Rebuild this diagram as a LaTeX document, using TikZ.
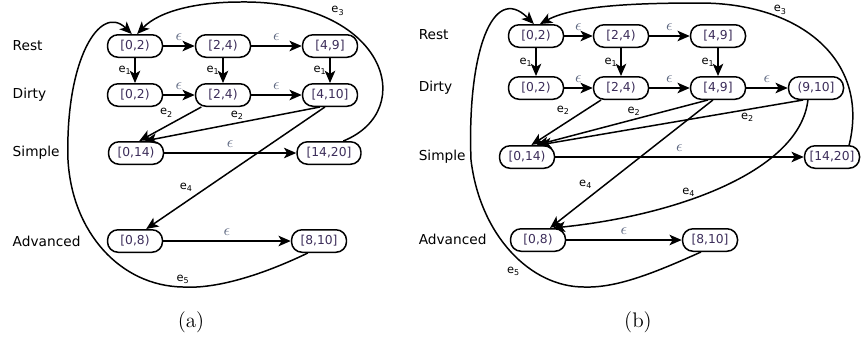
\documentclass[tikz,border=0pt]{standalone}
\usepackage{fontspec}
\usetikzlibrary{arrows.meta}
\newfontfamily\dvsans{DejaVu Sans}
\definecolor{ivtext}{RGB}{60,45,90}
\definecolor{epsgray}{RGB}{95,105,130}
\tikzset{
  iv/.style={draw, rounded corners=0.21cm, minimum width=1.1cm, minimum height=0.45cm, inner sep=1pt, text=ivtext, font=\dvsans\fontsize{7}{8}\selectfont},
  rowname/.style={anchor=west, inner sep=0pt, font=\dvsans\fontsize{7.8}{9}\selectfont},
  eps/.style={above=1.5pt, inner sep=1pt, text=epsgray, font=\fontsize{9}{10}\selectfont},
  elab/.style={inner sep=1.5pt, font=\dvsans\fontsize{6.5}{7}\selectfont},
  panelcap/.style={font=\fontsize{12}{14}\selectfont}
}
\begin{document}
\begin{tikzpicture}[x=0.02cm, y=-0.02cm, line width=0.85pt, >={Stealth[length=7pt,width=6pt,inset=1.8pt]}]
  \useasboundingbox (0,0) rectangle (862,339);
  \draw
    (12,46) node[rowname] (a-rest){Rest}
    (12,95) node[rowname] (a-dirty){Dirty}
    (12,153) node[rowname] (a-simple){Simple}
    (12,241) node[rowname] (a-adv){Advanced}
    (135,46) node[iv] (a-r0){[0,2)}
    (223,46) node[iv] (a-r1){[2,4)}
    (330,46) node[iv] (a-r2){[4,9]}
    (135,95) node[iv] (a-d0){[0,2)}
    (223,95) node[iv] (a-d1){[2,4)}
    (330,95) node[iv] (a-d2){[4,10]}
    (136,153) node[iv] (a-s0){[0,14)}
    (329,153) node[iv, minimum width=1.28cm] (a-s1){[14,20]}
    (135,241) node[iv] (a-a0){[0,8)}
    (319,241) node[iv] (a-a1){[8,10]}
    (191,322) node[panelcap] (a-cap){(a)};
  \draw
    (418,35) node[rowname] (b-rest){Rest}
    (418,88) node[rowname] (b-dirty){Dirty}
    (418,157) node[rowname] (b-simple){Simple}
    (418,239) node[rowname] (b-adv){Advanced}
    (536,36) node[iv] (b-r0){[0,2)}
    (621,36) node[iv] (b-r1){[2,4)}
    (718,36) node[iv] (b-r2){[4,9]}
    (536,88) node[iv] (b-d0){[0,2)}
    (621,88) node[iv] (b-d1){[2,4)}
    (718,88) node[iv] (b-d2){[4,9]}
    (816,88) node[iv] (b-d3){(9,10]}
    (527,157) node[iv] (b-s0){[0,14)}
    (832,157) node[iv] (b-s1){[14,20]}
    (538,240) node[iv] (b-a0){[0,8)}
    (710,240) node[iv] (b-a1){[8,10]}
    (638,322) node[panelcap] (b-cap){(b)};
  \begin{scope}[->]
    \draw (a-r0) to node[eps]{$\epsilon$} (a-r1);
    \draw (a-r1) to node[eps]{$\epsilon$} (a-r2);
    \draw (a-d0) to node[eps]{$\epsilon$} (a-d1);
    \draw (a-d1) to node[eps]{$\epsilon$} (a-d2);
    \draw (a-s0) to node[eps]{$\epsilon$} (a-s1);
    \draw (a-a0) to node[eps]{$\epsilon$} (a-a1);
    \draw (a-r0) to node[elab, left]{e\textsubscript{1}} (a-d0);
    \draw (a-r1) to node[elab, left]{e\textsubscript{1}} (a-d1);
    \draw (a-r2) to node[elab, left]{e\textsubscript{1}} (a-d2);
    \draw (a-d1.209) to node[elab, pos=0.4, above left]{e\textsubscript{2}} (a-s0.75);
    \draw (a-d2.230) to node[elab, pos=0.47, above]{e\textsubscript{2}} (a-s0.55);
    \draw (a-d2.247) to node[elab, pos=0.72, above left]{e\textsubscript{4}} (a-a0.47);
    \draw (a-s1.40) .. controls (420,110) and (385,0) .. (240,2)
      node[elab, pos=0.75, above right]{e\textsubscript{3}}
      .. controls (200,2) and (160,10) .. (a-r0.80);
    \draw (a-a1.227) .. controls (260,276) and (215,289) .. (183,287)
      node[elab, above]{e\textsubscript{5}}
      .. controls (120,286) and (72,232) .. (68,160)
      .. controls (65,60) and (100,3) .. (a-r0.105);
    \draw (b-r0) to node[eps]{$\epsilon$} (b-r1);
    \draw (b-r1) to node[eps]{$\epsilon$} (b-r2);
    \draw (b-d0) to node[eps]{$\epsilon$} (b-d1);
    \draw (b-d1) to node[eps]{$\epsilon$} (b-d2);
    \draw (b-d2) to node[eps]{$\epsilon$} (b-d3);
    \draw (b-s0) to node[eps]{$\epsilon$} (b-s1);
    \draw (b-a0) to node[eps]{$\epsilon$} (b-a1);
    \draw (b-r0) to node[elab, left]{e\textsubscript{1}} (b-d0);
    \draw (b-r1) to node[elab, left]{e\textsubscript{1}} (b-d1);
    \draw (b-r2) to node[elab, left]{e\textsubscript{1}} (b-d2);
    \draw (b-d1.211) to node[elab, pos=0.4, above left]{e\textsubscript{2}} (b-s0.70);
    \draw (b-d2.230) to node[elab, pos=0.43, above]{e\textsubscript{2}} (b-s0.52);
    \draw (b-d3.223) to node[elab, pos=0.21, below]{e\textsubscript{2}} (b-s0.45);
    \draw (b-d2.247) to node[elab, pos=0.72, above left]{e\textsubscript{4}} (b-a0.45);
    \draw (b-d3.236) .. controls (800,170) and (680,215) .. (b-a0.39)
      node[elab, pos=0.62, above]{e\textsubscript{4}};
    \draw (b-s1.35) .. controls (870,60) and (800,3) .. (700,3)
      node[elab, pos=0.7, above]{e\textsubscript{3}}
      .. controls (640,3) and (575,5) .. (b-r0.72);
    \draw (b-a1.233) .. controls (650,275) and (615,288) .. (584,287)
      .. controls (530,287) and (480,235) .. (471,160)
      node[elab, pos=0.4, below left]{e\textsubscript{5}}
      .. controls (467,55) and (492,-18) .. (b-r0.100);
  \end{scope}
\end{tikzpicture}
\end{document}
